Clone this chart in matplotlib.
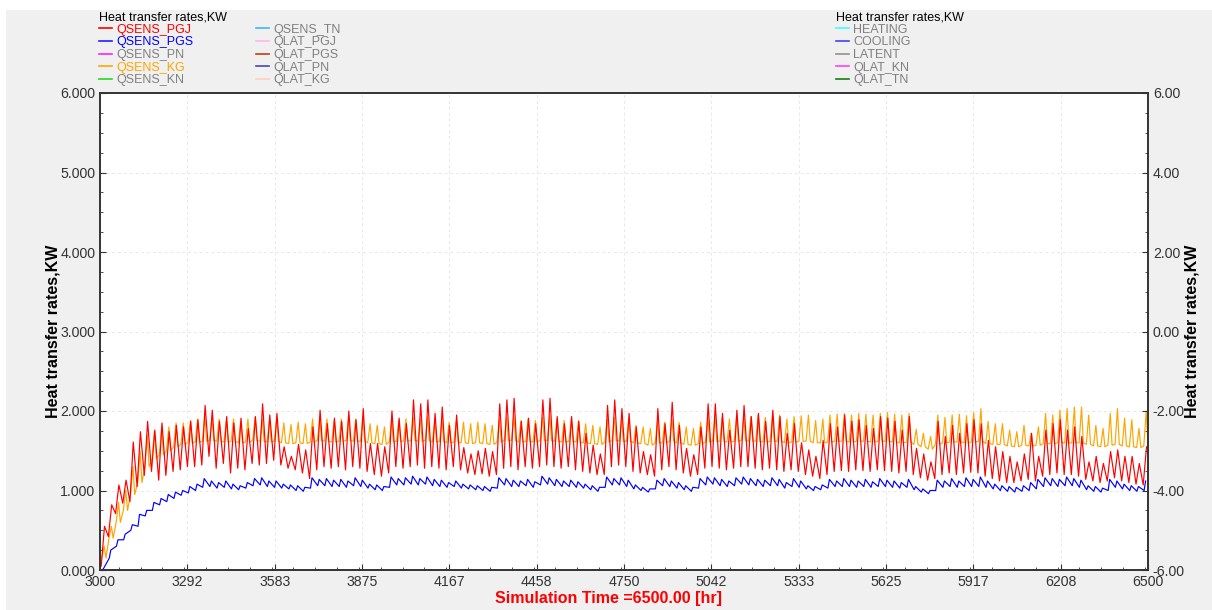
import numpy as np
import matplotlib.pyplot as plt
from matplotlib.lines import Line2D
from matplotlib.patches import Rectangle
from matplotlib.ticker import MultipleLocator, FormatStrFormatter

plt.rcParams['font.family'] = ['Liberation Sans', 'DejaVu Sans']

## DATA  (daily peaks / troughs, 146 days from 3000 h)
t_start = 3000
t_end = 6500

pgj_peak = [0.55, 0.82, 1.07, 1.13, 1.61, 1.74, 1.87, 1.76, 1.85, 1.74, 1.82, 1.80, 1.87,
            1.89, 2.07, 2.01, 1.87, 1.93, 1.85, 1.91, 1.78, 1.93, 2.09, 1.95, 1.97,
            1.55, 1.43, 1.58, 1.51,
            1.80, 2.01, 1.84, 1.91, 1.87, 2.00, 1.89, 2.03,
            1.59, 1.59, 1.55,
            2.00, 1.91, 1.84, 2.14, 2.09, 2.14, 1.97, 2.05, 1.82,
            1.95, 1.54, 1.46, 1.50, 1.53, 1.49,
            2.09, 2.14, 2.16, 1.87, 1.91, 1.84, 2.14, 2.16, 1.93, 1.84, 1.93, 1.87,
            1.72, 1.57, 1.46,
            2.07, 2.14, 2.03, 1.97,
            1.80, 1.49, 1.45,
            2.03, 1.84, 2.11, 1.82,
            1.53, 1.45,
            1.80, 2.09, 2.09, 1.97, 1.76, 2.01, 2.07, 1.93, 1.97, 1.87, 2.01, 1.93, 1.72, 1.84, 1.60,
            1.51, 1.43, 1.63,
            1.84, 1.80, 1.95, 1.87, 1.89, 1.82, 1.78, 1.93, 1.91, 1.87, 1.76, 1.93,
            1.53, 1.46, 1.36,
            1.87, 1.68, 1.82, 1.72, 1.84, 1.89,
            1.84, 1.63, 1.55, 1.49, 1.43, 1.36, 1.46, 1.72,
            1.43, 1.76, 1.84, 1.89, 1.76, 1.80, 1.68,
            1.36, 1.43, 1.34,
            1.49, 1.51, 1.43, 1.43, 1.34, 1.55]
pgj_low = [0.05, 0.42, 0.71, 0.84, 0.86, 1.05, 1.19, 1.24, 1.13, 1.19, 1.24, 1.26, 1.30,
           1.30, 1.32, 1.43, 1.28, 1.34, 1.22, 1.28, 1.26, 1.34, 1.32, 1.34, 1.38,
           1.32, 1.28, 1.26, 1.22,
           1.15, 1.26, 1.30, 1.28, 1.30, 1.26, 1.30, 1.28,
           1.24, 1.20, 1.18,
           1.22, 1.30, 1.28, 1.30, 1.32, 1.28, 1.30, 1.28, 1.26,
           1.30, 1.26, 1.22, 1.20, 1.21, 1.18,
           1.20, 1.28, 1.30, 1.26, 1.30, 1.28, 1.30, 1.32, 1.30, 1.28, 1.30, 1.26,
           1.24, 1.22, 1.20,
           1.20, 1.30, 1.32, 1.30,
           1.24, 1.22, 1.20,
           1.18, 1.26, 1.30, 1.26,
           1.22, 1.18,
           1.20, 1.28, 1.30, 1.28, 1.26, 1.28, 1.30, 1.30, 1.28, 1.26, 1.28, 1.26, 1.24, 1.26, 1.24,
           1.20, 1.18, 1.15,
           1.20, 1.24, 1.25, 1.24, 1.26, 1.25, 1.24, 1.26, 1.25, 1.24, 1.22, 1.24,
           1.20, 1.16, 1.13,
           1.15, 1.20, 1.22, 1.20, 1.22, 1.23,
           1.22, 1.18, 1.15, 1.12, 1.10, 1.10, 1.12, 1.14,
           1.12, 1.18, 1.20, 1.22, 1.20, 1.20, 1.18,
           1.14, 1.12, 1.10,
           1.12, 1.16, 1.12, 1.10, 1.08, 1.07]

pgs_peak = [0.02, 0.25, 0.38, 0.45, 0.57, 0.70, 0.75, 0.85, 0.90, 0.95, 0.98, 1.00, 1.05, 1.08,
            1.15, 1.12, 1.10, 1.12, 1.08, 1.06, 1.10, 1.15, 1.16, 1.12, 1.12,
            1.08, 1.07, 1.06, 1.04,
            1.16, 1.14, 1.15, 1.13, 1.14, 1.12, 1.16, 1.13,
            1.08, 1.07, 1.05,
            1.17, 1.15, 1.16, 1.18, 1.15, 1.17, 1.14, 1.13, 1.10,
            1.12, 1.08, 1.07, 1.06, 1.05, 1.04,
            1.16, 1.15, 1.13, 1.12, 1.14, 1.11, 1.18, 1.16, 1.14, 1.12, 1.13, 1.11,
            1.08, 1.06, 1.04,
            1.17, 1.15, 1.16, 1.13,
            1.07, 1.04, 1.02,
            1.13, 1.15, 1.12, 1.10,
            1.06, 1.04,
            1.15, 1.17, 1.16, 1.14, 1.12, 1.16, 1.17, 1.15, 1.14, 1.13, 1.16, 1.14, 1.10, 1.15, 1.12,
            1.06, 1.05, 1.07,
            1.14, 1.12, 1.15, 1.13, 1.12, 1.14, 1.11, 1.15, 1.13, 1.12, 1.10, 1.14,
            1.05, 1.02, 1.00,
            1.13, 1.12, 1.15, 1.12, 1.16, 1.14,
            1.17, 1.12, 1.08, 1.06, 1.05, 1.04, 1.06, 1.10,
            1.14, 1.16, 1.15, 1.14, 1.17, 1.15, 1.13,
            1.06, 1.05, 1.03,
            1.14, 1.12, 1.08, 1.06, 1.05, 1.12]
pgs_low = [0.00, 0.15, 0.30, 0.38, 0.50, 0.55, 0.68, 0.75, 0.82, 0.86, 0.90, 0.94, 0.97, 1.00,
           1.04, 1.05, 1.03, 1.04, 1.02, 1.01, 1.03, 1.06, 1.07, 1.05, 1.04,
           1.03, 1.02, 1.00, 0.99,
           1.03, 1.06, 1.06, 1.05, 1.05, 1.04, 1.06, 1.05,
           1.03, 1.01, 1.00,
           1.04, 1.07, 1.07, 1.08, 1.07, 1.08, 1.06, 1.05, 1.04,
           1.05, 1.03, 1.02, 1.01, 1.00, 0.99,
           1.03, 1.07, 1.05, 1.05, 1.06, 1.04, 1.07, 1.08, 1.06, 1.05, 1.05, 1.04,
           1.03, 1.01, 0.99,
           1.04, 1.07, 1.07, 1.05,
           1.02, 1.00, 0.98,
           1.02, 1.06, 1.05, 1.03,
           1.01, 0.99,
           1.03, 1.07, 1.08, 1.06, 1.05, 1.06, 1.08, 1.07, 1.06, 1.05, 1.06, 1.06, 1.03, 1.05, 1.04,
           1.02, 1.00, 1.01,
           1.03, 1.05, 1.05, 1.05, 1.04, 1.05, 1.04, 1.05, 1.05, 1.04, 1.03, 1.04,
           1.01, 0.98, 0.96,
           1.00, 1.04, 1.05, 1.04, 1.05, 1.05,
           1.05, 1.04, 1.02, 1.00, 0.99, 0.98, 0.99, 1.00,
           1.02, 1.05, 1.06, 1.05, 1.06, 1.06, 1.04,
           1.01, 0.99, 0.98,
           1.00, 1.04, 1.02, 1.00, 0.99, 1.00]

kg_peak = [0.30, 0.55, 0.85, 1.00, 1.30, 1.50, 1.70, 1.75, 1.80, 1.80, 1.85, 1.85, 1.88,
           1.90, 1.95, 1.92, 1.90, 1.88, 1.90, 1.87, 1.90, 1.92, 1.90, 1.88, 1.90,
           1.85, 1.83, 1.86, 1.84,
           1.90, 1.92, 1.90, 1.88, 1.90, 1.92, 1.90, 1.93,
           1.84, 1.82, 1.80,
           1.90, 1.88, 1.90, 1.92, 1.90, 1.92, 1.88, 1.90, 1.86,
           1.88, 1.86, 1.84, 1.86, 1.84, 1.82,
           1.90, 1.92, 1.94, 1.88, 1.90, 1.88, 1.92, 1.94, 1.90, 1.88, 1.90, 1.88,
           1.84, 1.82, 1.80,
           1.90, 1.92, 1.90, 1.90,
           1.82, 1.80, 1.78,
           1.88, 1.86, 1.90, 1.86,
           1.80, 1.78,
           1.86, 1.92, 1.94, 1.92, 1.90, 1.92, 1.94, 1.93, 1.95, 1.92, 1.94, 1.95, 1.90, 1.93, 1.94,
           1.95, 1.88, 1.90,
           1.95, 1.96, 1.97, 1.95, 1.97, 1.96, 1.95, 1.97, 1.98, 1.96, 1.95, 1.97,
           1.77, 1.72, 1.68,
           1.95, 1.92, 1.95, 1.96, 1.94, 1.98,
           2.03, 1.87, 1.84, 1.84, 1.76, 1.74, 1.82, 1.72,
           1.80, 1.97, 1.95, 2.01, 2.03, 2.05, 2.05,
           1.95, 1.82, 1.78,
           1.97, 2.03, 1.91, 1.89, 1.78, 2.00]
kg_low = [0.15, 0.40, 0.60, 0.75, 0.95, 1.10, 1.30, 1.40, 1.45, 1.50, 1.55, 1.58, 1.60,
          1.61, 1.62, 1.63, 1.62, 1.61, 1.62, 1.60, 1.61, 1.63, 1.62, 1.61, 1.62,
          1.60, 1.59, 1.60, 1.59,
          1.61, 1.63, 1.62, 1.61, 1.62, 1.63, 1.62, 1.62,
          1.60, 1.59, 1.58,
          1.61, 1.62, 1.62, 1.63, 1.62, 1.63, 1.61, 1.62, 1.60,
          1.61, 1.60, 1.59, 1.60, 1.59, 1.58,
          1.61, 1.63, 1.63, 1.61, 1.62, 1.61, 1.63, 1.63, 1.62, 1.61, 1.62, 1.61,
          1.60, 1.59, 1.58,
          1.61, 1.63, 1.62, 1.62,
          1.60, 1.59, 1.57,
          1.60, 1.60, 1.62, 1.60,
          1.58, 1.57,
          1.59, 1.61, 1.62, 1.62, 1.61, 1.62, 1.63, 1.62, 1.62, 1.61, 1.62, 1.62, 1.60, 1.61, 1.62,
          1.62, 1.60, 1.60,
          1.61, 1.62, 1.62, 1.61, 1.62, 1.62, 1.61, 1.62, 1.62, 1.61, 1.60, 1.61,
          1.58, 1.55, 1.52,
          1.58, 1.60, 1.61, 1.61, 1.60, 1.61,
          1.62, 1.59, 1.58, 1.58, 1.56, 1.55, 1.57, 1.56,
          1.57, 1.59, 1.59, 1.60, 1.60, 1.60, 1.60,
          1.58, 1.56, 1.55,
          1.57, 1.58, 1.56, 1.55, 1.54, 1.56]

xtick_labels = ['3000', '3292', '3583', '3875', '4167', '4458', '4750',
                '5042', '5333', '5625', '5917', '6208', '6500']

legend_left = ['QSENS_PGJ', 'QSENS_PGS', 'QSENS_PN', 'QSENS_KG', 'QSENS_KN',
               'QSENS_TN', 'QLAT_PGJ', 'QLAT_PGS', 'QLAT_PN', 'QLAT_KG']
legend_left_colors = ['#ff0000', '#2020ff', '#ff20ff', '#ffa500', '#20dd20',
                      '#40b8f0', '#ffb8f0', '#c04010', '#4848a8', '#ffd0c0']
legend_left_text = ['#ff0000', '#0000ff', '#808080', '#ffa500', '#808080',
                    '#808080', '#808080', '#808080', '#808080', '#808080']
legend_right = ['HEATING', 'COOLING', 'LATENT', 'QLAT_KN', 'QLAT_TN']
legend_right_colors = ['#40ffff', '#4040ff', '#909090', '#ff40ff', '#108010']


def zigzag(low, peak, h_low, h_peak):
    low = np.asarray(low)
    peak = np.asarray(peak)
    day0 = t_start + 24 * np.arange(len(low))
    x = np.column_stack([day0 + h_low, day0 + h_peak]).ravel()
    y = np.column_stack([low, peak]).ravel()
    return x, y


def spikes(base, peak, h_a, h_peak, h_b):
    base = np.asarray(base)
    peak = np.asarray(peak)
    day0 = t_start + 24 * np.arange(len(base))
    x = np.column_stack([day0 + h_a, day0 + h_peak, day0 + h_b]).ravel()
    y = np.column_stack([base, peak, base]).ravel()
    return x, y


fig = plt.figure(figsize=(12.12, 6.10), dpi=100, facecolor='#f0f0f0')
# white margins at top and left of the window
fig.patches.append(Rectangle((0, 1 - 10 / 610), 1, 10 / 610, transform=fig.transFigure,
                             facecolor='white', edgecolor='none', zorder=-10))
fig.patches.append(Rectangle((0, 0), 6 / 1212, 1, transform=fig.transFigure,
                             facecolor='white', edgecolor='none', zorder=-10))

ax = fig.add_axes([100 / 1212, 1 - 570 / 610, 1048 / 1212, 477 / 610])

xk, yk = spikes(kg_low, kg_peak, 6, 14, 20)
xb, yb = zigzag(pgs_low, pgs_peak, 7, 12)
xr, yr = zigzag(pgj_low, pgj_peak, 4, 15)
ax.plot(xk, yk, color='#ffa500', lw=0.85)
ax.plot(xb, yb, color='#0000ff', lw=0.85)
ax.plot(xr, yr, color='#ff0000', lw=0.85)

ax.set_xlim(t_start, t_end)
ax.set_ylim(0, 6)
xt = np.linspace(t_start, t_end, len(xtick_labels))
ax.set_xticks(xt)
ax.set_xticklabels(xtick_labels)
ax.xaxis.set_minor_locator(MultipleLocator((t_end - t_start) / 48))
ax.yaxis.set_major_locator(MultipleLocator(1))
ax.yaxis.set_minor_locator(MultipleLocator(0.25))
ax.yaxis.set_major_formatter(FormatStrFormatter('%.3f'))
ax.grid(True, which='major', color='#e8e8e8', ls=(0, (3, 3)), lw=0.7)
ax.tick_params(which='both', direction='in', colors='#333333', labelsize=10.2)
ax.tick_params(which='major', length=4)
ax.tick_params(which='minor', length=2)
for s in ax.spines.values():
    s.set_color('#333333')
    s.set_linewidth(1.2)

ax.set_xlabel('Simulation Time =6500.00 [hr]', color='#ff0000', fontweight='bold',
              fontsize=11.5)
ax.xaxis.set_label_coords(0.485, -0.045)
ax.set_ylabel('Heat transfer rates,KW', fontweight='bold', fontsize=11.5, labelpad=0)

ax2 = ax.twinx()
ax2.set_ylim(-6, 6)
ax2.yaxis.set_major_locator(MultipleLocator(2))
ax2.yaxis.set_minor_locator(MultipleLocator(0.5))
ax2.yaxis.set_major_formatter(FormatStrFormatter('%.2f'))
ax2.tick_params(which='both', direction='in', colors='#333333', labelsize=10.2)
ax2.tick_params(which='major', length=4)
ax2.tick_params(which='minor', length=2)
for s in ax2.spines.values():
    s.set_color('#333333')
    s.set_linewidth(1.2)
ax2.set_ylabel('Heat transfer rates,KW', fontweight='bold', fontsize=11.5, labelpad=0)

# legends
h_left = [Line2D([], [], color=c, lw=1.2) for c in legend_left_colors]
leg1 = fig.legend(h_left, legend_left, ncol=2, loc='upper left',
                  bbox_to_anchor=(89 / 1212, 1 - 1 / 610), frameon=False,
                  title='Heat transfer rates,KW', alignment='left',
                  fontsize=9, title_fontsize=9, handlelength=1.0, handletextpad=0.4,
                  labelspacing=0.05, columnspacing=5.0, borderpad=0.3)
for txt, c in zip(leg1.get_texts(), legend_left_text):
    txt.set_color(c)

h_right = [Line2D([], [], color=c, lw=1.2) for c in legend_right_colors]
leg2 = fig.legend(h_right, legend_right, ncol=1, loc='upper left',
                  bbox_to_anchor=(826 / 1212, 1 - 1 / 610), frameon=False,
                  title='Heat transfer rates,KW', alignment='left',
                  fontsize=9, title_fontsize=9, handlelength=1.0, handletextpad=0.4,
                  labelspacing=0.05, borderpad=0.3, labelcolor='#808080')

fig.savefig('out.png', dpi=100, facecolor=fig.get_facecolor())
